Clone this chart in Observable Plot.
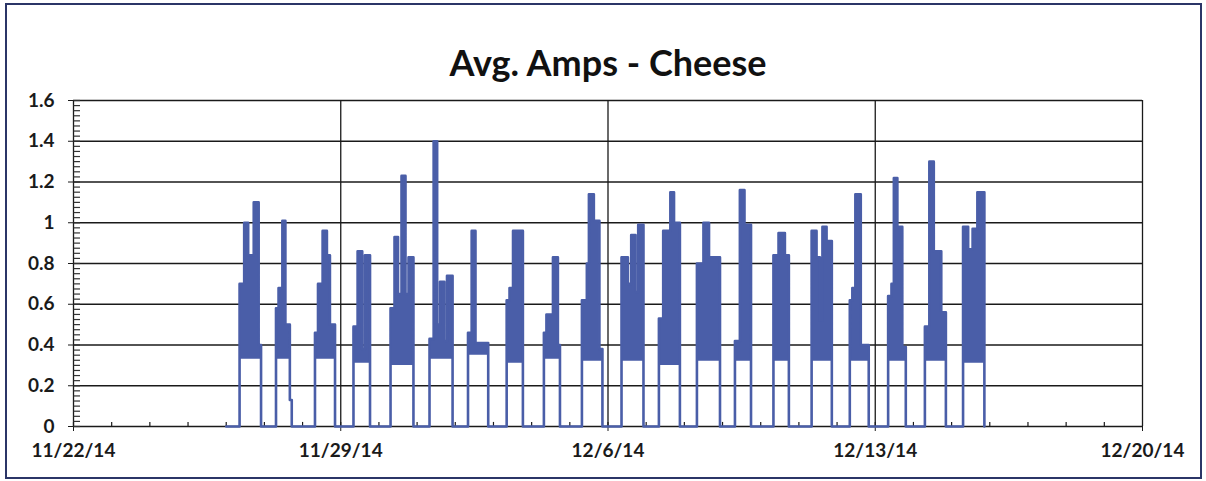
<!DOCTYPE html>
<html>
<head>
<meta charset="utf-8">
<script src="https://cdn.jsdelivr.net/npm/d3@7"></script>
<script src="https://cdn.jsdelivr.net/npm/@observablehq/plot@0.6"></script>
<style>
  html, body { margin: 0; padding: 0; background: #fff; }
  #wrap { position: relative; width: 1206px; height: 481px; overflow: hidden; }
  #border { position: absolute; left: 5px; top: 3px; width: 1197px; height: 476px; box-sizing: border-box; border: 2px solid #2b3567; pointer-events: none; }
</style>
</head>
<body>
<div id="wrap"><div id="chart"></div><div id="border"></div></div>
<script>
// ---- data ----
const titleText = "Avg. Amps - Cheese";
const seriesStart = "2014-11-26T00:00Z";
const burstDay = ["2014-11-26","2014-11-27","2014-11-28","2014-11-29","2014-11-30","2014-12-01","2014-12-02","2014-12-03","2014-12-04","2014-12-05","2014-12-06","2014-12-07","2014-12-08","2014-12-09","2014-12-10","2014-12-11","2014-12-12","2014-12-13","2014-12-14","2014-12-15"];
// hour of day at which each level of a burst begins
const stepHours = [
  [8.4, 11.3, 13.8, 17.3, 20.4],
  [7.3, 8.9, 11.3, 13.2, 16.0],
  [7.8, 9.7, 12.6, 15.3, 17.2],
  [8.0, 10.6, 13.5, 15.2],
  [7.3, 9.8, 12.0, 14.2, 16.7, 18.6],
  [7.8, 10.4, 12.6, 14.4, 17.1, 18.8],
  [8.0, 10.3, 12.7],
  [8.3, 10.1, 12.3],
  [7.7, 9.3, 13.4, 16.5],
  [7.6, 10.7, 12.0, 15.1, 18.6],
  [8.5, 12.5, 14.6, 17.3, 19.0],
  [8.0, 10.7, 15.2, 17.5],
  [7.9, 12.0, 15.5],
  [7.8, 10.9, 13.8],
  [8.0, 11.2, 15.2],
  [8.0, 11.1, 13.2, 14.8, 17.4],
  [8.0, 9.6, 11.5, 14.9],
  [8.1, 10.2, 11.7, 13.9, 17.0],
  [7.2, 10.0, 12.8, 17.5],
  [7.2, 10.4, 13.2, 16.2]
];
// upper amps level of each step
const stepAmps = [
  [0.70, 1.00, 0.84, 1.10, 0.40],
  [0.58, 0.68, 1.01, 0.50, 0.13],
  [0.46, 0.70, 0.96, 0.84, 0.50],
  [0.49, 0.86, 0.38, 0.84],
  [0.58, 0.93, 0.65, 1.23, 0.65, 0.83],
  [0.43, 1.40, 0.50, 0.71, 0.42, 0.74],
  [0.46, 0.96, 0.41],
  [0.62, 0.68, 0.96],
  [0.46, 0.55, 0.83, 0.40],
  [0.62, 0.80, 1.14, 1.01, 0.38],
  [0.83, 0.70, 0.94, 0.66, 0.99],
  [0.53, 0.96, 1.15, 1.00],
  [0.80, 1.00, 0.83],
  [0.42, 1.16, 0.99],
  [0.84, 0.95, 0.84],
  [0.96, 0.83, 0.52, 0.98, 0.91],
  [0.62, 0.68, 1.14, 0.40],
  [0.64, 0.70, 1.22, 0.98, 0.39],
  [0.49, 1.30, 0.86, 0.56],
  [0.98, 0.87, 0.97, 1.15]
];
// hour at which each burst drops back to zero
const burstEnd = [21.9, 17.2, 20.4, 18.4, 21.7, 22.3, 20.7, 18.5, 17.8, 20.5, 22.3, 21.2, 22.4, 17.9, 17.7, 20.7, 19.9, 19.2, 20.4, 20.6];
// lower edge of the dense oscillation inside each burst
const lowLevel = [0.33, 0.33, 0.33, 0.31, 0.30, 0.33, 0.35, 0.31, 0.33, 0.32, 0.32, 0.30, 0.32, 0.32, 0.32, 0.32, 0.32, 0.32, 0.32, 0.31];

const xDomain = ["2014-11-22", "2014-12-20"];
const weekTicks = ["2014-11-22", "2014-11-29", "2014-12-06", "2014-12-13", "2014-12-20"];
const yTicks = [0, 0.2, 0.4, 0.6, 0.8, 1.0, 1.2, 1.4, 1.6];

// ---- build tables ----
const at = (day, h) => new Date(Date.parse(day + "T00:00Z") + h * 3600e3);
const line = [{t: new Date(seriesStart), v: 0}];
const band = [];
burstDay.forEach((day, b) => {
  stepHours[b].forEach((h, i) => {
    const a = stepAmps[b][i];
    line.push({t: at(day, h), v: a});
    band.push({t: at(day, h), lo: Math.min(lowLevel[b], a), hi: a, b});
  });
  const last = stepAmps[b][stepAmps[b].length - 1];
  band.push({t: at(day, burstEnd[b]), lo: Math.min(lowLevel[b], last), hi: last, b});
  line.push({t: at(day, burstEnd[b]), v: 0});
});

const d0 = new Date(xDomain[0] + "T00:00Z"), d1 = new Date(xDomain[1] + "T00:00Z");
const weeks = weekTicks.map(s => new Date(s + "T00:00Z"));
const days = d3.utcDay.range(d0, d1);
const tickEnd = new Date(+d0 + 0.17 * 864e5);
const yMinor = d3.range(0, 1.6001, 0.025).map(v => ({v}));
const blue = "#4a5ea8";
const ink = "#1a1a1a";

const chart = Plot.plot({
  width: 1206,
  height: 481,
  marginTop: 100,
  marginBottom: 55,
  marginLeft: 73,
  marginRight: 64,
  style: {fontFamily: "Lato, sans-serif", fontWeight: "bold", fontSize: "19px", color: ink, background: "#fff", overflow: "visible"},
  x: {type: "utc", domain: [d0, d1], ticks: weeks, tickFormat: d3.utcFormat("%-m/%-d/%y"), tickSize: 5, tickPadding: 12, label: null},
  y: {domain: [0, 1.6], ticks: yTicks, tickFormat: d => String(+d.toFixed(1)), tickSize: 5, tickPadding: 14, label: null},
  marks: [
    Plot.ruleY(yTicks, {y: d => d, stroke: ink, strokeWidth: 1.6}),
    Plot.ruleX(weeks, {x: d => d, stroke: ink, strokeWidth: 1.3}),
    Plot.link(yMinor, {x1: () => d0, x2: () => tickEnd, y1: "v", y2: "v", stroke: "#333", strokeWidth: 1.2}),
    Plot.ruleX(days, {x: d => d, y1: 0, y2: 0.02, stroke: ink, strokeWidth: 1.2}),
    Plot.areaY(band, {x: "t", y1: "lo", y2: "hi", z: "b", curve: "step-after", fill: blue}),
    Plot.line(line, {x: "t", y: "v", curve: "step-after", stroke: blue, strokeWidth: 2.6}),
    Plot.text([titleText], {frameAnchor: "top", dy: -50, fontSize: 36, fontWeight: "bold", fill: "#111"})
  ]
});
document.getElementById("chart").appendChild(chart);
</script>
</body>
</html>
